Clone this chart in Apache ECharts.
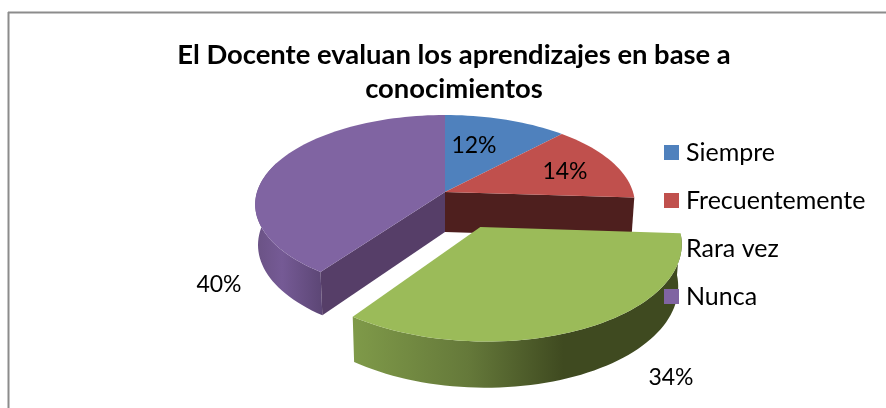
<!DOCTYPE html>
<html>
<head>
<meta charset="utf-8">
<style>
html, body { margin: 0; padding: 0; background: #fff; }
#main { width: 886px; height: 408px; }
</style>
<script src="https://cdn.jsdelivr.net/npm/echarts@6/dist/echarts.min.js"></script>
</head>
<body>
<div id="main"></div>
<script>
var titleLines = ['El Docente evaluan los aprendizajes en base a', 'conocimientos'];
var categories = ['Siempre', 'Frecuentemente', 'Rara vez', 'Nunca'];
var values = [12, 14, 34, 40];
var colors = ['#4f81bd', '#c0504d', '#9bbb59', '#8064a2'];

// projection of the tilted pie, fitted on the picture
var cx = 445, cy = 192;
var radiusX = 188, radiusY = 87.7, persp = 0.139;
var depth = 40, bottomScale = 0.985;
var explode = [0, 0, 0.418, 0];
// where the percent labels go, and dark colour of each cut wall
var labelPos = [[474, 146], [565, 172], [671, 378], [219, 285]];
var cutColor = [null, '#4e1f1e', null, '#563e68'];
var rimColor = [
	null,
	null,
	[[0, '#7f9a49'], [0.35, '#65793a'], [0.64, '#3f4a20'], [1, '#3f4a20']],
	[[0, '#6a5284'], [0.4, '#755a95'], [1, '#5c4675']]
];
var fontName = 'Lato, "Open Sans", sans-serif';

var total = 0;
values.forEach(function (v) { total += v; });

function project(s, c, low) {
	var k = 1 + persp * c;
	var x = cx + radiusX * s / k;
	var y = cy - radiusY * c / k;
	if (low) {
		x = cx + (x - cx) * bottomScale;
		y = y + depth / (1 + persp * c * 0.7);
	}
	return [x, y];
}

function sliceAngles(idx) {
	var before = 0;
	for (var i = 0; i < idx; i++) {
		before += values[i];
	}
	return [before / total * 360, (before + values[idx]) / total * 360];
}

function slicePoint(idx, deg, r, low) {
	var a = sliceAngles(idx);
	var mid = (a[0] + a[1]) / 2 * Math.PI / 180;
	var rad = deg * Math.PI / 180;
	return project(
		r * Math.sin(rad) + explode[idx] * Math.sin(mid),
		r * Math.cos(rad) + explode[idx] * Math.cos(mid),
		low
	);
}

function arcPoints(idx, from, to, low) {
	var pts = [];
	var n = Math.max(2, Math.ceil((to - from) / 2));
	for (var i = 0; i <= n; i++) {
		pts.push(slicePoint(idx, from + (to - from) * i / n, 1, low));
	}
	return pts;
}

function renderSlice(idx) {
	return function (params, api) {
		var a = sliceAngles(idx);
		var kids = [];

		// cut wall that faces the viewer
		if (cutColor[idx]) {
			var edge = idx === 1 ? a[1] : a[0];
			kids.push({
				type: 'polygon',
				z2: 1,
				shape: { points: [
					slicePoint(idx, edge, 0), slicePoint(idx, edge, 1),
					slicePoint(idx, edge, 1, true), slicePoint(idx, edge, 0, true)
				] },
				style: { fill: cutColor[idx] }
			});
		}
		// outer wall
		if (rimColor[idx]) {
			var from = Math.max(a[0], 90);
			var to = Math.min(a[1], 290);
			var rim = arcPoints(idx, from, to, false).concat(arcPoints(idx, from, to, true).reverse());
			kids.push({
				type: 'polygon',
				z2: 0,
				shape: { points: rim },
				style: {
					fill: {
						type: 'linear', x: 0, y: 0, x2: 1, y2: 0,
						colorStops: rimColor[idx].map(function (st) {
							return { offset: st[0], color: st[1] };
						})
					}
				}
			});
		}
		// top face
		kids.push({
			type: 'polygon',
			z2: 2,
			shape: { points: [slicePoint(idx, 0, 0)].concat(arcPoints(idx, a[0], a[1], false)) },
			style: { fill: colors[idx] }
		});
		// percent label
		kids.push({
			type: 'text',
			z2: 3,
			x: labelPos[idx][0],
			y: labelPos[idx][1],
			style: {
				text: api.value(0) + '%',
				fill: '#000',
				font: '23px ' + fontName,
				align: 'center',
				verticalAlign: 'middle'
			}
		});
		return { type: 'group', children: kids };
	};
}

var series = categories.map(function (name, i) {
	return {
		name: name,
		type: 'custom',
		coordinateSystem: 'none',
		z: i === 2 ? 3 : 2,
		animation: false,
		silent: true,
		itemStyle: { color: colors[i] },
		data: [[values[i]]],
		renderItem: renderSlice(i)
	};
});

var myChart = echarts.init(document.getElementById('main'), null, { renderer: 'canvas' });
myChart.setOption({
	backgroundColor: '#fff',
	animation: false,
	title: {
		text: titleLines.join('\n'),
		left: 449,
		top: 33,
		textAlign: 'center',
		textStyle: {
			fontFamily: fontName,
			fontWeight: 'bold',
			fontSize: 27.4,
			lineHeight: 34,
			color: '#000'
		}
	},
	legend: {
		data: categories,
		orient: 'vertical',
		left: 664,
		top: 139,
		padding: 0,
		icon: 'rect',
		itemWidth: 15,
		itemHeight: 15,
		itemGap: 21,
		textStyle: {
			fontFamily: fontName,
			fontSize: 25,
			lineHeight: 27,
			color: '#000',
			padding: [0, 0, 0, 2]
		}
	},
	graphic: [
		{ type: 'line', shape: { x1: 8.5, y1: 12, x2: 8.5, y2: 408 }, style: { stroke: '#8c8c8c', lineWidth: 2 } },
		{ type: 'line', shape: { x1: 8, y1: 12.5, x2: 886, y2: 12.5 }, style: { stroke: '#8c8c8c', lineWidth: 2 } }
	],
	series: series
});
</script>
</body>
</html>
